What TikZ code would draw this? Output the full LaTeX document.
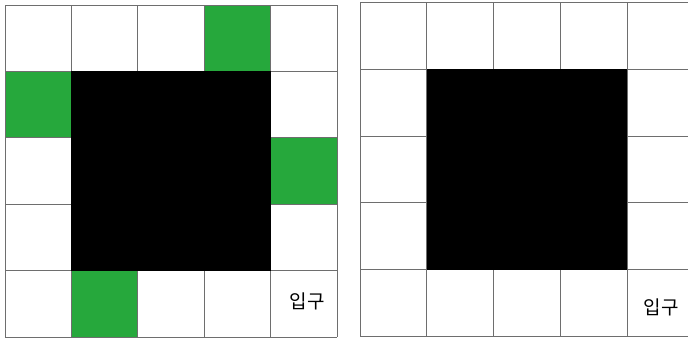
\documentclass[tikz,border=0pt]{standalone}
\usepackage{fontspec}
\newfontfamily\krfont{Noto Sans CJK KR}
\definecolor{cellgreen}{RGB}{38,168,60}
\definecolor{gridgray}{RGB}{110,110,110}
\begin{document}
\begin{tikzpicture}[x=1pt,y=-1pt,
  gridline/.style={draw=gridgray,line width=0.9pt},
  greencell/.style={fill=cellgreen},
  blackcell/.style={fill=black},
  label/.style={font=\krfont\fontsize{19}{21}\selectfont,inner sep=0pt}]
\useasboundingbox (0,0) rectangle (688,340);
% left grid
\def\cl{66.4}
\begin{scope}[shift={(5,5)}]
  \fill[greencell] (3*\cl,0) rectangle (4*\cl,\cl);
  \fill[greencell] (0,\cl) rectangle (\cl,2*\cl);
  \fill[greencell] (4*\cl,2*\cl) rectangle (5*\cl,3*\cl);
  \fill[greencell] (\cl,4*\cl) rectangle (2*\cl,5*\cl);
  \foreach \i in {0,...,5} {
    \draw[gridline] (\i*\cl,0) -- (\i*\cl,5*\cl);
    \draw[gridline] (0,\i*\cl) -- (5*\cl,\i*\cl);
  }
  \fill[blackcell] (\cl,\cl) rectangle (4*\cl,4*\cl);
  \node[label] (inL) at (4.55*\cl,4.46*\cl) {입구};
\end{scope}
% right grid
\def\cr{66.8}
\begin{scope}[shift={(360,2.5)}]
  \foreach \i in {0,...,5} {
    \draw[gridline] (\i*\cr,0) -- (\i*\cr,5*\cr);
    \draw[gridline] (0,\i*\cr) -- (5*\cr,\i*\cr);
  }
  \fill[blackcell] (\cr,\cr) rectangle (4*\cr,4*\cr);
  \node[label] (inR) at (4.51*\cr,4.56*\cr) {입구};
\end{scope}
\end{tikzpicture}
\end{document}
